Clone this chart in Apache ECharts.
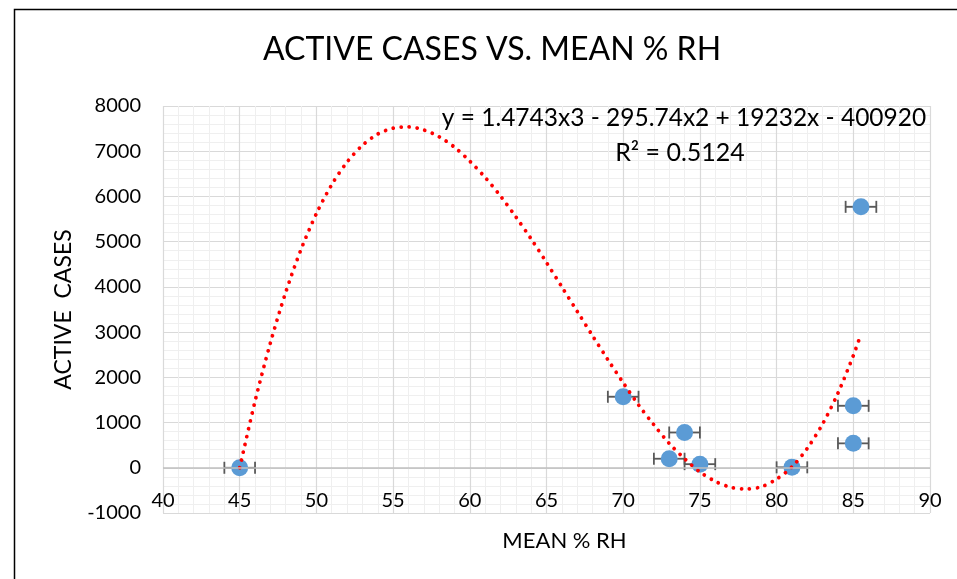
<!DOCTYPE html>
<html>
<head>
<meta charset="utf-8">
<script src="https://cdn.jsdelivr.net/npm/echarts@6/dist/echarts.min.js"></script>
<style>
html,body{margin:0;padding:0;background:#fff;}
#c{width:957px;height:579px;}
</style>
</head>
<body>
<div id="c"></div>
<script>
// Observed data points: [MEAN % RH, ACTIVE CASES]
const pointsX = [45, 70, 73, 74, 75, 81, 85, 85, 85.5];
const pointsY = [0, 1570, 200, 780, 80, 10, 1370, 540, 5770];
const xError = 1; // horizontal error bar half-width

// Trendline values (dotted red cubic trend)
const trendX = [45,46,47,48,49,50,51,52,53,54,55,56,57,58,59,60,61,62,63,64,65,66,67,68,69,70,71,72,73,74,75,76,77,78,79,80,81,82,83,84,85,85.4];
const trendY = [0,1470,2760,3880,4830,5620,6260,6760,7130,7380,7510,7540,7470,7320,7090,6780,6420,6010,5550,5060,4540,4000,3460,2920,2390,1880,1390,950,540,200,-90,-300,-430,-470,-420,-250,20,430,970,1650,2480,2860];

const xTicks = {min: 40, max: 90, interval: 5};
const yTicks = {min: -1000, max: 8000, interval: 1000};

const titleText = 'ACTIVE CASES VS. MEAN % RH';
const eqText = 'y = 1.4743x3 - 295.74x2 + 19232x - 400920';
const r2Text = 'R² = 0.5124';

const FONT = 'Lato';

const chart = echarts.init(document.getElementById('c'));
const scatterData = pointsX.map((x, i) => [x, pointsY[i]]);
const errData = pointsX.map((x, i) => [x, pointsY[i], x - xError, x + xError]);
const trendData = trendX.map((x, i) => [x, trendY[i]]);

chart.setOption({
  animation: false,
  backgroundColor: '#fff',
  textStyle: {fontFamily: FONT},
  title: {
    text: titleText,
    left: 487, top: 29, textAlign: 'center',
    textStyle: {fontFamily: FONT, fontSize: 32, fontWeight: 'normal', color: '#000'}
  },
  grid: {left: 163, top: 106, right: 27, bottom: 66, containLabel: false, outerBoundsMode: 'none'},
  xAxis: {
    type: 'value',
    min: xTicks.min, max: xTicks.max, interval: xTicks.interval,
    name: 'MEAN % RH', nameLocation: 'middle', nameGap: 17,
    nameTextStyle: {fontFamily: FONT, fontSize: 22, color: '#000', padding: [0, 0, 0, 36]},
    axisLine: {show: false, onZero: false},
    axisTick: {show: false},
    axisLabel: {fontFamily: FONT, fontSize: 20, color: '#000', margin: -22},
    splitLine: {show: true, lineStyle: {color: '#d9d9d9', width: 1.2}},
    minorTick: {show: false, splitNumber: 5},
    minorSplitLine: {show: true, lineStyle: {color: '#efefef', width: 1}}
  },
  yAxis: {
    type: 'value',
    min: yTicks.min, max: yTicks.max, interval: yTicks.interval,
    name: 'ACTIVE  CASES', nameLocation: 'middle', nameGap: 88, nameRotate: 90,
    nameTextStyle: {fontFamily: FONT, fontSize: 23, color: '#000'},
    axisLine: {show: false},
    axisTick: {show: false},
    axisLabel: {fontFamily: FONT, fontSize: 20, color: '#000', margin: 22,
      formatter: function (v) { return String(v); }},
    splitLine: {show: true, lineStyle: {color: '#d9d9d9', width: 1.2}},
    minorTick: {show: false, splitNumber: 5},
    minorSplitLine: {show: true, lineStyle: {color: '#efefef', width: 1}}
  },
  graphic: [
    {type: 'rect', left: 12, top: 7, shape: {x: 0, y: 0, width: 1000, height: 700},
     style: {fill: 'none', stroke: '#000', lineWidth: 1.5}, silent: true, z: 100},
    {type: 'text', x: 684, y: 118, style: {text: eqText, fontFamily: FONT, fontSize: 24.5, fill: '#000', align: 'center', verticalAlign: 'middle'}, z: 50},
    {type: 'text', x: 680, y: 153, style: {text: r2Text, fontFamily: FONT, fontSize: 25, fill: '#000', align: 'center', verticalAlign: 'middle'}, z: 50}
  ],
  series: [
    {
      type: 'custom',
      name: 'error',
      z: 2,
      renderItem: function (params, api) {
        const y = api.value(1);
        const p1 = api.coord([api.value(2), y]);
        const p2 = api.coord([api.value(3), y]);
        const cap = 6;
        const st = {stroke: '#595959', lineWidth: 1.8};
        return {
          type: 'group',
          children: [
            {type: 'line', shape: {x1: p1[0], y1: p1[1], x2: p2[0], y2: p2[1]}, style: st},
            {type: 'line', shape: {x1: p1[0], y1: p1[1] - cap, x2: p1[0], y2: p1[1] + cap}, style: st},
            {type: 'line', shape: {x1: p2[0], y1: p2[1] - cap, x2: p2[0], y2: p2[1] + cap}, style: st}
          ]
        };
      },
      encode: {x: 0, y: 1},
      data: errData,
      markLine: {
        silent: true,
        symbol: ['none', 'none'],
        label: {show: false},
        lineStyle: {color: '#bfbfbf', width: 1.6, type: 'solid'},
        emphasis: {disabled: true},
        data: [{yAxis: 0}]
      }
    },
    {
      type: 'scatter',
      name: 'cases',
      z: 3,
      symbol: 'circle',
      symbolSize: 17,
      itemStyle: {color: '#5b9bd5', opacity: 1},
      data: scatterData
    },
    {
      type: 'line',
      name: 'trend',
      z: 4,
      smooth: 0.3,
      showSymbol: false,
      symbol: 'none',
      lineStyle: {color: '#ff0000', width: 3.8, type: [0.01, 8], cap: 'round'},
      data: trendData
    }
  ]
});
</script>
</body>
</html>
